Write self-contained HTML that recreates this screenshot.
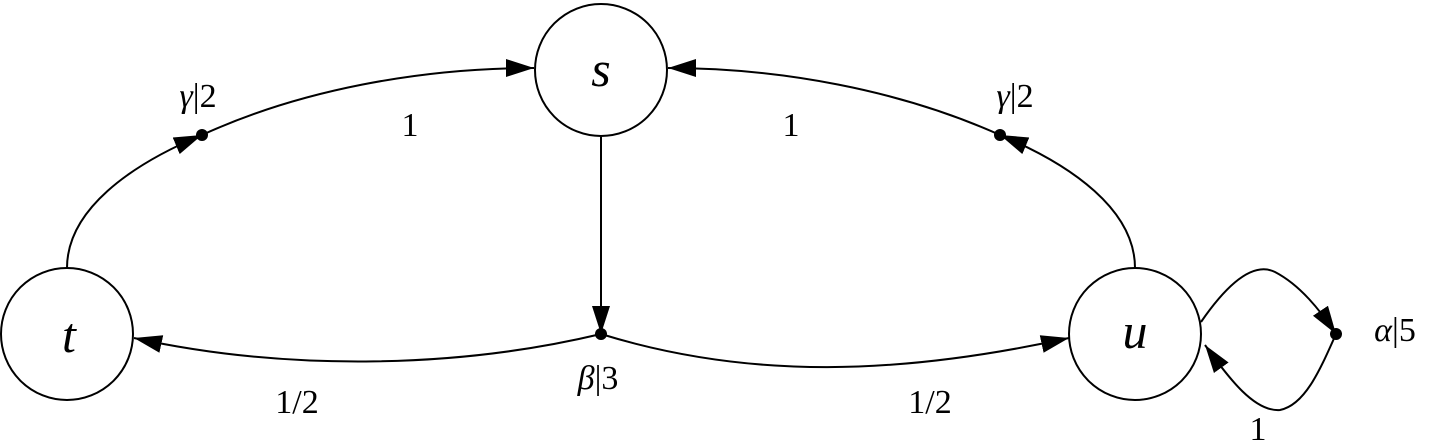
<!DOCTYPE html>
<html><head><meta charset="utf-8"><style>
html,body{margin:0;padding:0;background:#fff;}
svg{display:block;}
text{font-family:"Liberation Serif",serif;fill:#000;}
</style></head><body>
<svg width="1445" height="445" viewBox="0 0 1445 445">
<defs>
<marker id="ar" markerWidth="30" markerHeight="20" refX="28" refY="10" orient="auto" markerUnits="userSpaceOnUse">
<path d="M0,1 L28,10 L0,19 Z" fill="#000"/>
</marker>
</defs>
<g fill="none" stroke="#000" stroke-width="2">
<circle cx="601" cy="70" r="66"/>
<circle cx="67" cy="334" r="66"/>
<circle cx="1135" cy="334" r="66"/>
<path d="M67,268 C67,210 130,165 202,135" marker-end="url(#ar)"/>
<path d="M202,135 C300,90 420,68 534,68" marker-end="url(#ar)"/>
<path d="M1135,268 C1135,210 1072,165 1000,135" marker-end="url(#ar)"/>
<path d="M1000,135 C900,90 780,68 668,68" marker-end="url(#ar)"/>
<path d="M601,137 L601,334" marker-end="url(#ar)"/>
<path d="M601,334 C450,370 280,370 134,338" marker-end="url(#ar)"/>
<path d="M601,334 C750,380 900,375 1069,338" marker-end="url(#ar)"/>
<path d="M1201,322 C1230,280 1255,262 1275,272 C1300,285 1320,310 1336,334" marker-end="url(#ar)"/>
<path d="M1336,334 C1320,370 1305,405 1280,410 C1255,412 1230,380 1205,345" marker-end="url(#ar)"/>
</g>
<g fill="#000">
<circle cx="202" cy="135" r="6"/>
<circle cx="1000" cy="135" r="6"/>
<circle cx="601" cy="334" r="6"/>
<circle cx="1336" cy="334" r="6"/>
</g>
<text x="601" y="86" font-size="50" font-style="italic" text-anchor="middle">s</text>
<text x="69" y="352" font-size="50" font-style="italic" text-anchor="middle">t</text>
<text x="1135" y="348" font-size="50" font-style="italic" text-anchor="middle">u</text>
<g font-size="34">
<text x="198" y="107" text-anchor="middle"><tspan font-style="italic">γ</tspan>|2</text>
<text x="410" y="136" text-anchor="middle">1</text>
<text x="1015" y="107" text-anchor="middle"><tspan font-style="italic">γ</tspan>|2</text>
<text x="791" y="136" text-anchor="middle">1</text>
<text x="598" y="389" text-anchor="middle"><tspan font-style="italic">β</tspan>|3</text>
<text x="297" y="413" text-anchor="middle">1/2</text>
<text x="930" y="413" text-anchor="middle">1/2</text>
<text x="1395" y="341" text-anchor="middle"><tspan font-style="italic">α</tspan>|5</text>
<text x="1258" y="440" text-anchor="middle">1</text>
</g>
</svg>
</body></html>
